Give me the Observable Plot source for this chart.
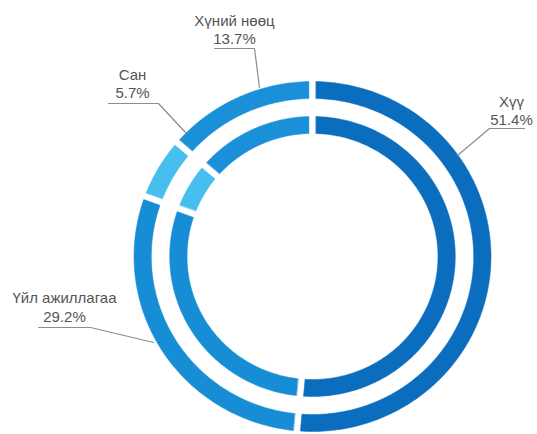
<!DOCTYPE html>
<html>
<head>
<meta charset="utf-8">
<script src="https://cdn.jsdelivr.net/npm/d3@7"></script>
<script src="https://cdn.jsdelivr.net/npm/@observablehq/plot@0.6"></script>
<style>
  html, body { margin: 0; padding: 0; background: #fff; }
  #chart svg { display: block; }
</style>
</head>
<body>
<div id="chart"></div>
<script>
// ---- data ----
const categories = ["Хүү", "Үйл ажиллагаа", "Сан", "Хүний нөөц"];
const shares = [51.4, 29.2, 5.7, 13.7];

// ---- styles / layout ----
const colors = ["#0b6dbe", "#178dd6", "#47bfee", "#1a90d8"];
const CX = 312, CY = 256, SX = 1.02;     // ring centre and horizontal stretch
const rings = [[158, 175], [123, 140]];   // [inner, outer] radius of each ring
const GAP = 7;                             // gap width between segments (px)
// label anchors (text centre x, line-1 y, line-2 y) and leader polyline
const labelLayout = [
  {x: 511, y1: 102, y2: 120, leader: [[457, 155], [489, 128], [524, 128]]},
  {x: 64,  y1: 298, y2: 317, leader: [[153, 342], [90, 327], [38, 327]]},
  {x: 132, y1: 75,  y2: 93,  leader: [[185, 132], [158, 103], [108, 103]]},
  {x: 234, y1: 21,  y2: 39,  leader: [[259, 87], [254, 48], [214, 48]]}
];

// ---- build ring segment polygons from the data ----
const arcs = d3.pie().sort(null).value(d => d)(shares);
const pts = [];
rings.forEach(([r0, r1], ri) => {
  arcs.forEach((a, i) => {
    const d1 = Math.asin(GAP / 2 / r1), d0 = Math.asin(GAP / 2 / r0);
    const n = Math.max(10, Math.ceil((a.endAngle - a.startAngle) * 180 / Math.PI));
    const key = ri + "-" + i;
    for (let k = 0; k <= n; k++) {
      const t = (a.startAngle + d1) + (a.endAngle - a.startAngle - 2 * d1) * k / n;
      pts.push({key, color: colors[i], x: CX + SX * r1 * Math.sin(t), y: CY - r1 * Math.cos(t)});
    }
    for (let k = n; k >= 0; k--) {
      const t = (a.startAngle + d0) + (a.endAngle - a.startAngle - 2 * d0) * k / n;
      pts.push({key, color: colors[i], x: CX + SX * r0 * Math.sin(t), y: CY - r0 * Math.cos(t)});
    }
  });
});

const textRows = [];
const leaderRows = [];
labelLayout.forEach((L, i) => {
  textRows.push({x: L.x, y: L.y1, text: categories[i]});
  textRows.push({x: L.x, y: L.y2, text: shares[i].toFixed(1) + "%"});
  L.leader.forEach(([x, y]) => leaderRows.push({key: i, x, y}));
});

const chart = Plot.plot({
  width: 537,
  height: 434,
  margin: 0,
  style: {background: "#fff"},
  x: {domain: [0, 537], range: [0, 537], axis: null},
  y: {domain: [0, 434], range: [0, 434], axis: null},
  color: {type: "identity"},
  marks: [
    Plot.line(pts, {x: "x", y: "y", z: "key", fill: "color", stroke: "color", strokeWidth: 0.5, curve: "linear-closed"}),
    Plot.line(leaderRows, {x: "x", y: "y", z: "key", stroke: "#8c8c8c", strokeWidth: 1.2}),
    Plot.text(textRows, {x: "x", y: "y", text: "text", fontSize: 15, fill: "#555",
      fontFamily: "Liberation Sans, Arial, sans-serif", textAnchor: "middle", lineAnchor: "middle"})
  ]
});
document.getElementById("chart").append(chart);
</script>
</body>
</html>
